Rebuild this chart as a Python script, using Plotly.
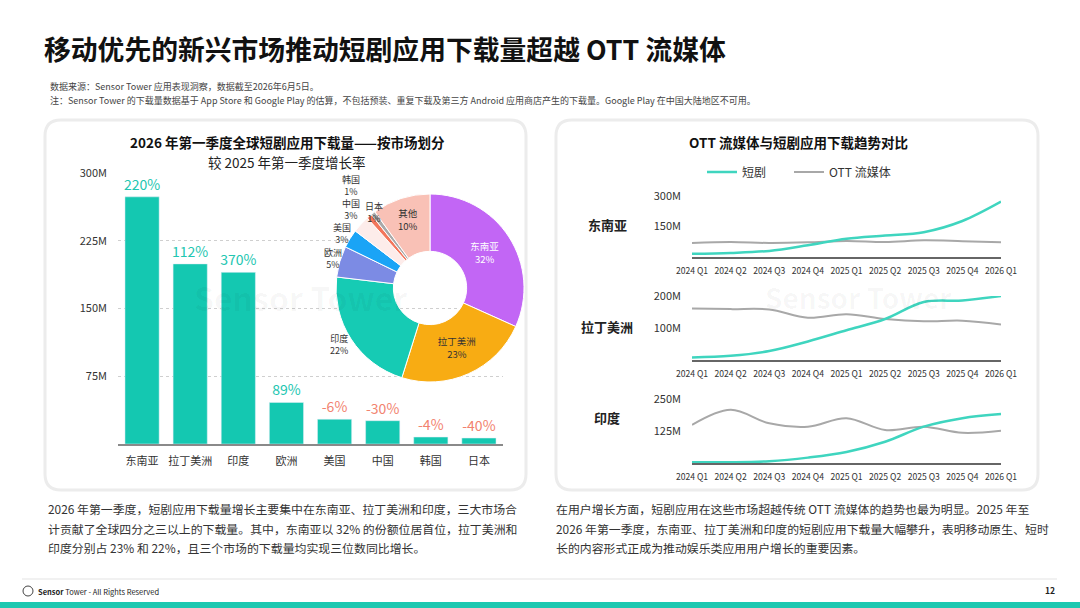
import plotly.graph_objects as go

W, H = 1080, 608
FONT = 'Noto Sans CJK SC'

# 2026 Q1 short drama app downloads by market (left card)
markets = ['东南亚', '拉丁美洲', '印度', '欧洲', '美国', '中国', '韩国', '日本']
downloads = [273.6e6, 199.4e6, 190e6, 46e6, 27.4e6, 25.8e6, 7.7e6, 6.6e6]
growth = ['220%', '112%', '370%', '89%', '-6%', '-30%', '-4%', '-40%']
bar_ticks = [75e6, 150e6, 225e6, 300e6]

# donut = same markets + the rest
other_label = '其他'
other_downloads = 86e6
pie_labels = markets + [other_label]
pie_values = downloads + [other_downloads]
pie_colors = ['#c266f5', '#f8ac13', '#16cbb4', '#7c8be4', '#1aa4f6',
              '#fdecea', '#f3765c', '#a9a9a9', '#f9c1b6']

# quarterly trend, short drama vs OTT (right card)
quarters = ['2024 Q1', '2024 Q2', '2024 Q3', '2024 Q4', '2025 Q1',
            '2025 Q2', '2025 Q3', '2025 Q4', '2026 Q1']
sea_short = [16e6, 20e6, 30e6, 58e6, 90e6, 106e6, 122e6, 177e6, 272e6]
sea_ott = [69e6, 74e6, 69e6, 72e6, 79e6, 74e6, 82e6, 78e6, 73e6]
latam_short = [8e6, 13e6, 28e6, 58e6, 93e6, 128e6, 181e6, 186e6, 200e6]
latam_ott = [161e6, 159e6, 158e6, 132e6, 143e6, 128e6, 121e6, 123e6, 111e6]
india_short = [3e6, 3e6, 7e6, 21e6, 43e6, 83e6, 142e6, 175e6, 191e6]
india_ott = [149e6, 208e6, 155e6, 142e6, 175e6, 129e6, 142e6, 118e6, 126e6]
sea_ticks = [150e6, 300e6]
latam_ticks = [100e6, 200e6]
india_ticks = [125e6, 250e6]

TEAL_BAR = '#14c8b1'
TEAL_LINE = '#3fd5bf'
GREY_LINE = '#a8a8a8'
UP = '#22c6b1'
DOWN = '#f2836f'


def fx(x):
    return x / W


def fy(y):
    return 1 - y / H


def mfmt(v):
    return f'{v / 1e6:.0f}M'


def card(x0, y0, x1, y1, r=16):
    def P(x, y):
        return f'{fx(x):.5f},{fy(y):.5f}'
    return (f'M {P(x0 + r, y0)} L {P(x1 - r, y0)} Q {P(x1, y0)} {P(x1, y0 + r)} '
            f'L {P(x1, y1 - r)} Q {P(x1, y1)} {P(x1 - r, y1)} L {P(x0 + r, y1)} '
            f'Q {P(x0, y1)} {P(x0, y1 - r)} L {P(x0, y0 + r)} Q {P(x0, y0)} {P(x0 + r, y0)} Z')


fig = go.Figure()

# bars
fig.add_trace(go.Bar(
    x=markets, y=downloads, marker_color=TEAL_BAR,
    text=growth, textposition='outside', cliponaxis=False,
    constraintext='none',
    textfont=dict(size=14, color=[DOWN if g.startswith('-') else UP for g in growth]),
    showlegend=False, hoverinfo='skip', xaxis='x', yaxis='y'))

# donut: big slices labelled inside, small ones get labels placed beside the ring
total = sum(pie_values)
pct = [f'{v / total:.0%}' for v in pie_values]
inside = [True, True, False, False, False, False, False, False, True]
fig.add_trace(go.Pie(
    labels=pie_labels, values=pie_values, sort=False, direction='clockwise',
    hole=0.39, marker=dict(colors=pie_colors, line=dict(color='white', width=1)),
    text=[f'{l}<br>{p}' if ins else '' for l, p, ins in zip(pie_labels, pct, inside)],
    textinfo='text', textposition='inside',
    insidetextorientation='horizontal',
    textfont=dict(size=9.5, color=['white'] + ['#333'] * 8),
    domain=dict(x=[fx(336), fx(524)], y=[fy(382), fy(194)]),
    showlegend=False, hoverinfo='skip'))

# spots for the outside donut labels (pixels)
outside_spots = {'印度': (339, 344), '欧洲': (333, 258), '美国': (342, 233),
                 '中国': (351, 209), '韩国': (351, 185), '日本': (374, 213)}

# small multiples
rows = [
    ('东南亚', sea_short, sea_ott, sea_ticks, 196, 257),
    ('拉丁美洲', latam_short, latam_ott, latam_ticks, 296, 360),
    ('印度', india_short, india_ott, india_ticks, 399, 463),
]
annotations = []
for i, (name, short, ott, ticks, top, bottom) in enumerate(rows):
    n = i + 2
    fig.add_trace(go.Scatter(
        x=quarters, y=ott, mode='lines', line=dict(color=GREY_LINE, width=2, shape='spline'),
        name='OTT 流媒体', legend='legend2', showlegend=(i == 0), cliponaxis=False,
        xaxis=f'x{n}', yaxis=f'y{n}', hoverinfo='skip'))
    fig.add_trace(go.Scatter(
        x=quarters, y=short, mode='lines', line=dict(color=TEAL_LINE, width=2.5, shape='spline'),
        name='短剧', legend='legend', showlegend=(i == 0), cliponaxis=False,
        xaxis=f'x{n}', yaxis=f'y{n}', hoverinfo='skip'))
    fig.update_layout({
        f'xaxis{n}': dict(domain=[fx(692), fx(1001)], anchor=f'y{n}', type='category',
                          range=[0, len(quarters) - 1], tickmode='array',
                          tickvals=quarters, ticktext=quarters, tickangle=0,
                          showline=True, linecolor='#666', linewidth=1.5, automargin=False,
                          showgrid=False, zeroline=False, ticks='outside', ticklen=5,
                          tickcolor='rgba(0,0,0,0)', tickfont=dict(size=8.6, color='#333')),
        f'yaxis{n}': dict(domain=[fy(bottom), fy(top)], anchor=f'x{n}',
                          range=[0, ticks[-1]], tickmode='array', tickvals=ticks,
                          ticktext=[mfmt(t) for t in ticks], showgrid=False, automargin=False,
                          zeroline=False, showline=False, ticklabelstandoff=10,
                          tickfont=dict(size=11, color='#333')),
    })
    annotations.append(dict(text=f'<b>{name}</b>', x=fx(607), y=fy((top + bottom) / 2 - 2),
                            xref='paper', yref='paper', xanchor='center', showarrow=False,
                            font=dict(size=13, color='#222')))

fig.update_layout(
    xaxis=dict(domain=[fx(118), fx(503)], anchor='y', showline=True, linecolor='#8a8a8a',
               linewidth=2, ticks='outside', ticklen=6, tickcolor='rgba(0,0,0,0)',
               automargin=False, tickfont=dict(size=11, color='#333')),
    yaxis=dict(domain=[fy(444), fy(173)], anchor='x', range=[0, bar_ticks[-1]],
               tickmode='array', tickvals=bar_ticks, ticktext=[mfmt(t) for t in bar_ticks],
               showgrid=True, gridcolor='#cfcfcf', griddash='dot', gridwidth=1,
               automargin=False, zeroline=False, ticklabelstandoff=10,
               tickfont=dict(size=11, color='#333')),
    bargap=0.29,
)

for lab, p in zip(pie_labels, pct):
    if lab in outside_spots:
        sx, sy = outside_spots[lab]
        annotations.append(dict(text=f'{lab}<br>{p}', x=fx(sx), y=fy(sy), xref='paper',
                                yref='paper', xanchor='center', yanchor='middle',
                                showarrow=False, font=dict(size=9, color='#333')))

texts = [
    ('<b>移动优先的新兴市场推动短剧应用下载量超越 OTT 流媒体</b>', 42, 48, 26.8, '#111', 'left'),
    ('数据来源：Sensor Tower 应用表现洞察，数据截至2026年6月5日。', 48, 86, 9, '#444', 'left'),
    ('注：Sensor Tower 的下载量数据基于 App Store 和 Google Play 的估算，不包括预装、重复下载及第三方 Android 应用商店产生的下载量。Google Play 在中国大陆地区不可用。',
     48, 100, 9, '#444', 'left'),
    ('<b>2026 年第一季度全球短剧应用下载量——按市场划分</b>', 287, 142, 13.5, '#111', 'center'),
    ('较 2025 年第一季度增长率', 287, 162, 13.5, '#222', 'center'),
    ('<b>OTT 流媒体与短剧应用下载趋势对比</b>', 798, 142, 13.5, '#111', 'center'),
    ('2026 年第一季度，短剧应用下载量增长主要集中在东南亚、拉丁美洲和印度，三大市场合', 46, 508, 11.9, '#333', 'left'),
    ('计贡献了全球四分之三以上的下载量。其中，东南亚以 32% 的份额位居首位，拉丁美洲和', 46, 528, 11.9, '#333', 'left'),
    ('印度分别占 23% 和 22%，且三个市场的下载量均实现三位数同比增长。', 46, 547, 11.9, '#333', 'left'),
    ('在用户增长方面，短剧应用在这些市场超越传统 OTT 流媒体的趋势也最为明显。2025 年至', 554, 508, 11.9, '#333', 'left'),
    ('2026 年第一季度，东南亚、拉丁美洲和印度的短剧应用下载量大幅攀升，表明移动原生、短时', 554, 528, 11.9, '#333', 'left'),
    ('长的内容形式正成为推动娱乐类应用用户增长的重要因素。', 554, 547, 11.9, '#333', 'left'),
    ('<b>Sensor</b> Tower - All Rights Reserved', 36, 591, 7.5, '#222', 'left'),
    ('<b>12</b>', 1057, 590, 8.5, '#222', 'right'),
    ('<b>Sensor Tower</b>', 300, 297, 32, 'rgba(0,0,0,0.035)', 'center'),
    ('<b>Sensor Tower</b>', 858, 297, 28, 'rgba(0,0,0,0.035)', 'center'),
]
for t, x, y, s, c, anc in texts:
    annotations.append(dict(text=t, x=fx(x), y=fy(y), xref='paper', yref='paper',
                            xanchor=anc, yanchor='middle', showarrow=False,
                            font=dict(size=s, color=c)))

shapes = [
    dict(type='path', path=card(45, 120, 526, 490), xref='paper', yref='paper',
         line=dict(color='#ececec', width=3), fillcolor='white', layer='below'),
    dict(type='path', path=card(556, 120, 1038, 490), xref='paper', yref='paper',
         line=dict(color='#ececec', width=3), fillcolor='white', layer='below'),
    dict(type='line', x0=fx(22), x1=fx(1057), y0=fy(579), y1=fy(579), xref='paper', yref='paper',
         line=dict(color='#e3e3e3', width=1)),
    dict(type='circle', x0=fx(23), x1=fx(33), y0=fy(586), y1=fy(596), xref='paper', yref='paper',
         line=dict(color='#444', width=1)),
    dict(type='rect', x0=0, x1=1, y0=0, y1=fy(602), xref='paper', yref='paper',
         line=dict(width=0), fillcolor='#1dc8b0'),
]

legend_style = dict(orientation='h', xanchor='left', yanchor='middle', y=fy(172),
                    font=dict(size=12, color='#333'), bgcolor='rgba(0,0,0,0)',
                    itemclick=False, itemdoubleclick=False)

fig.update_layout(
    width=W, height=H, autosize=False,
    margin=dict(l=0, r=0, t=0, b=0, autoexpand=False),
    paper_bgcolor='white', plot_bgcolor='rgba(0,0,0,0)',
    font=dict(family=FONT, color='#333'),
    annotations=annotations, shapes=shapes,
    legend=dict(x=fx(702), **legend_style),
    legend2=dict(x=fx(789), **legend_style),
)

# page body has a default 8px margin; drop it so the figure sits at the window corner
fig.write_html('out.html', config={'displayModeBar': False},
               post_script="document.body.style.margin='0';")
